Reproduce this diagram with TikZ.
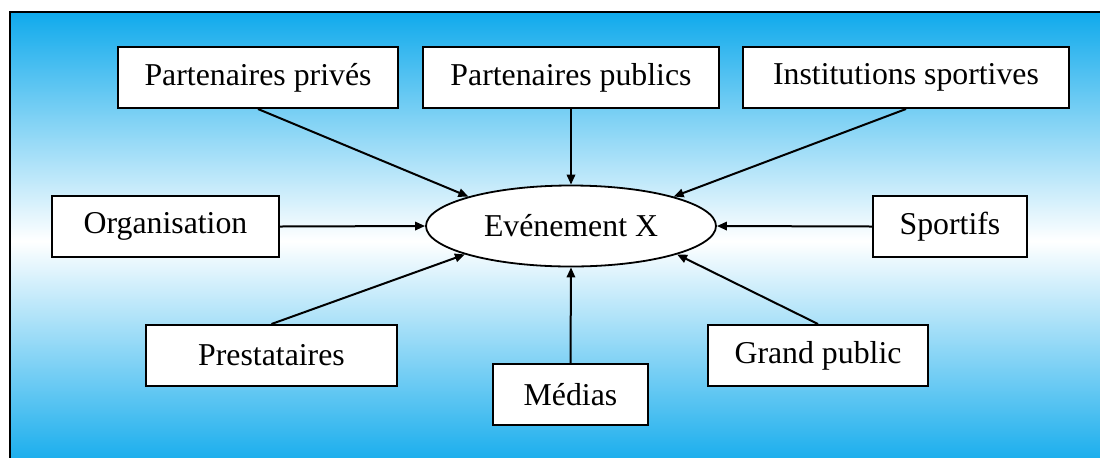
\documentclass[tikz,border=0pt]{standalone}
\usepackage{fontspec}
\setmainfont{Liberation Serif}
\usetikzlibrary{shapes.geometric,arrows.meta}
\definecolor{skyblue}{RGB}{16,170,236}
\tikzset{
  box/.style={draw=black, line width=1pt, fill=white, minimum height=30.5pt, inner sep=0pt,
    font=\fontsize{15.9}{19}\selectfont},
  evt/.style={draw=black, line width=0.9pt, fill=white, ellipse, minimum width=145pt, minimum height=40.5pt,
    inner sep=0pt, font=\fontsize{15.9}{19}\selectfont},
  arr/.style={line width=1pt, -{Triangle[length=5pt,width=4.2pt]}},
  frame/.style={draw=black, line width=0.9pt}
}
\begin{document}
\begin{tikzpicture}[x=0.5pt,y=-0.5pt]
\useasboundingbox (0,0) rectangle (1100,457);
\clip (0,0) rectangle (1100,457);
\fill[white] (0,0) rectangle (1100,457);
\shade[top color=skyblue, bottom color=skyblue, middle color=white] (10,12) rectangle (1120,470);
\draw[frame] (10,480) -- (10,12) -- (1120,12);

\node[evt] (ev) at (571,226) {Evénement X};
\node[box, minimum width=140pt] (pp) at (258,77.5) {Partenaires privés};
\node[box, minimum width=148pt] (pu) at (571,77.5) {Partenaires publics};
\node[box, minimum width=163pt] (is) at (906,77.5) {Institutions sportives};
\node[box, minimum width=113.5pt] (org) at (165.5,226.5) {Organisation};
\node[box, minimum width=77pt] (sp) at (950,226.5) {Sportifs};
\node[box, minimum width=125.5pt] (pre) at (271.5,355.5) {Prestataires};
\node[box, minimum width=110pt] (gp) at (818,355.5) {Grand public};
\node[box, minimum width=77.5pt] (med) at (570.5,394.5) {Médias};

\draw[arr] (pp.south) -- (ev.164);
\draw[arr] (pu.south) -- (ev.north);
\draw[arr] (is.south) -- (ev.16);
\draw[arr] (org.east) -- (ev.west);
\draw[arr] (sp.west) -- (ev.east);
\draw[arr] (pre.north) -- (ev.195);
\draw[arr] (gp.north) -- (ev.-15);
\draw[arr] (med.north) -- (ev.south);
\end{tikzpicture}
\end{document}
